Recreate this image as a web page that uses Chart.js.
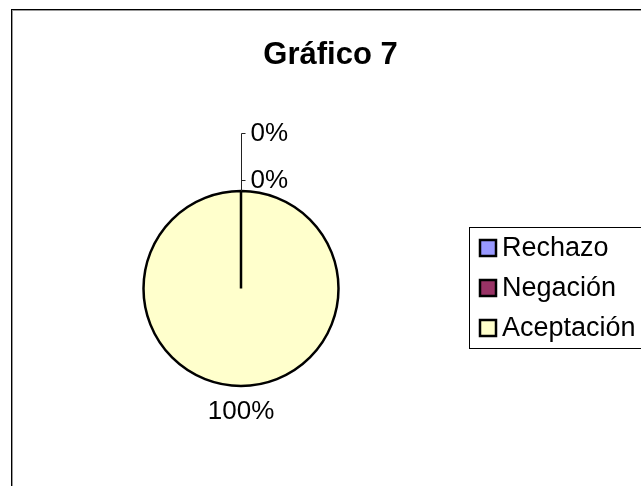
<!DOCTYPE html>
<html>
<head>
<meta charset="utf-8">
<title>Gráfico 7</title>
<script src="https://cdn.jsdelivr.net/npm/chart.js@4/dist/chart.umd.min.js"></script>
<style>
  html, body { margin: 0; padding: 0; background: #fff; }
  canvas { display: block; }
</style>
</head>
<body>
<canvas id="chart" width="641" height="486"></canvas>
<script>
/* Gráfico 7 — pie chart with Excel-style frame, labels and legend */

const TITLE = 'Gráfico 7';
const categories = ['Rechazo', 'Negación', 'Aceptación'];
const values = [0, 0, 100];

const sliceColors = ['#9999FF', '#993366', '#FFFFCC'];
const FONT = "'Liberation Sans', Arial, sans-serif";

// ─── Frame, title and legend ─────────────────────────────────────────────────

const framePlugin = {
  id: 'frame',
  beforeDraw(chart) {
    const { ctx, width, height } = chart;
    ctx.save();
    ctx.fillStyle = '#fff';
    ctx.fillRect(0, 0, width, height);
    ctx.strokeStyle = '#000';
    ctx.lineWidth = 1;
    ctx.strokeRect(11.5, 9.5, width + 20, height + 20);
    ctx.strokeStyle = '#999';
    ctx.strokeRect(12.5, 10.5, width + 20, height + 20);
    ctx.restore();
  },
  afterDraw(chart) {
    const { ctx } = chart;
    ctx.save();

    // title
    ctx.fillStyle = '#000';
    ctx.font = `bold 31px ${FONT}`;
    ctx.textAlign = 'center';
    ctx.textBaseline = 'middle';
    ctx.fillText(TITLE, 330.5, 55);

    // legend
    ctx.strokeStyle = '#000';
    ctx.lineWidth = 1;
    ctx.strokeRect(469.5, 227.5, 250, 121);
    ctx.font = `27px ${FONT}`;
    ctx.textAlign = 'left';
    categories.forEach((name, i) => {
      const cy = 248 + i * 40;
      ctx.fillStyle = sliceColors[i];
      ctx.fillRect(479, cy - 9, 18, 18);
      ctx.lineWidth = 2.5;
      ctx.strokeStyle = '#000';
      ctx.strokeRect(480, cy - 8, 16, 16);
      ctx.fillStyle = '#000';
      ctx.fillText(name, 502, cy + 1);
    });

    ctx.restore();
  },
};

// ─── Percentage labels with leader lines ─────────────────────────────────────

const labelPlugin = {
  id: 'pctLabels',
  afterDatasetsDraw(chart) {
    const { ctx } = chart;
    const meta = chart.getDatasetMeta(0);
    const data = chart.data.datasets[0].data;
    const total = data.reduce((a, b) => a + b, 0);
    const zeroIdx = data.map((v, i) => (v === 0 ? i : -1)).filter(i => i >= 0);

    ctx.save();
    ctx.font = `26px ${FONT}`;
    ctx.fillStyle = '#000';
    ctx.textBaseline = 'middle';

    meta.data.forEach((arc, i) => {
      const { x, y, startAngle, endAngle, outerRadius } = arc.getProps(
        ['x', 'y', 'startAngle', 'endAngle', 'outerRadius'], true);
      const text = `${Math.round((data[i] / total) * 100)}%`;

      if (data[i] === 0) {
        // stacked above the pie, Excel-style leader
        const k = zeroIdx.length - 1 - zeroIdx.indexOf(i);
        const ex = Math.round(x + outerRadius * Math.cos(startAngle)) + 0.5;
        const ey = y + outerRadius * Math.sin(startAngle);
        const ly = Math.round(ey - 11 - k * 47) + 0.5;
        ctx.strokeStyle = '#222';
        ctx.lineWidth = 1;
        ctx.beginPath();
        ctx.moveTo(ex, ey);
        ctx.lineTo(ex, ly);
        ctx.lineTo(ex + 4, ly);
        ctx.stroke();
        ctx.textAlign = 'left';
        ctx.fillText(text, ex + 9, ly);
      } else {
        const mid = (startAngle + endAngle) / 2;
        const r = outerRadius + 26;
        ctx.textAlign = 'center';
        ctx.fillText(text, x + r * Math.cos(mid), y + r * Math.sin(mid));
      }
    });
    ctx.restore();
  },
};

// ─── Chart ───────────────────────────────────────────────────────────────────

new Chart(document.getElementById('chart'), {
  type: 'pie',
  data: {
    labels: categories,
    datasets: [{
      data: values,
      backgroundColor: sliceColors,
      borderColor: '#000',
      borderWidth: 2.5,
    }],
  },
  options: {
    responsive: false,
    animation: false,
    radius: 97.5,
    layout: { padding: { left: 20, right: 179, top: 100, bottom: 9 } },
    plugins: {
      legend: { display: false },
      title: { display: false },
      tooltip: { enabled: false },
    },
  },
  plugins: [framePlugin, labelPlugin],
});
</script>
</body>
</html>
